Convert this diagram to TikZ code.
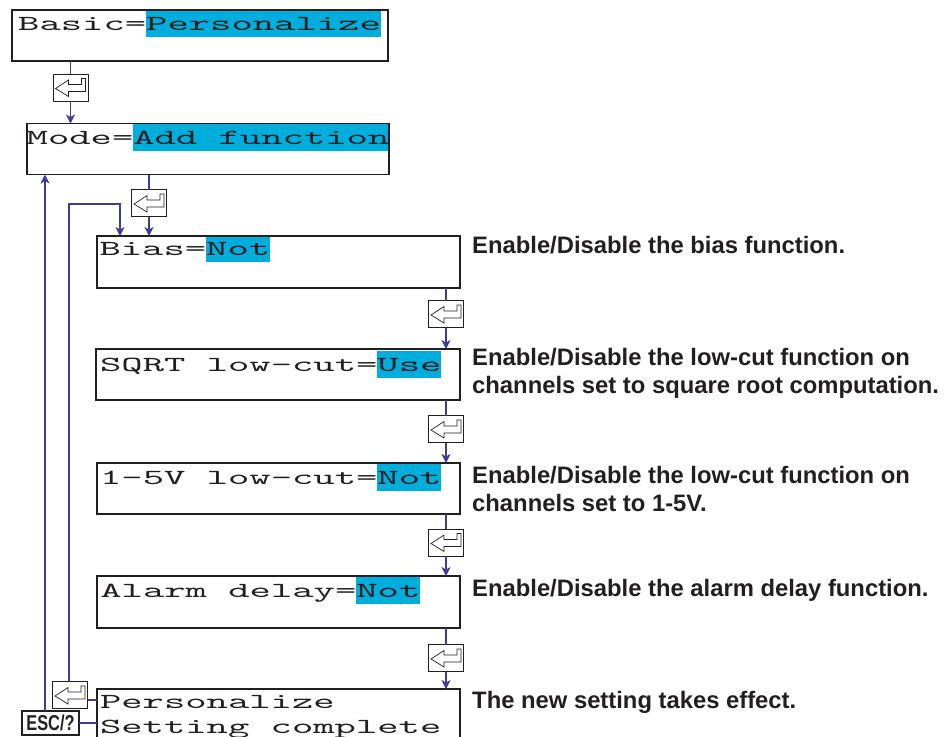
\documentclass[tikz,border=0pt]{standalone}
\usepackage{fontspec}
\usepackage{graphicx}
\setmainfont{Liberation Sans}
\newfontfamily\lcdfont{lmmono10-regular.otf}[FakeStretch=1.89]
\newfontfamily\descfont{Liberation Sans}
\usetikzlibrary{arrows.meta,calc}
\definecolor{ink}{HTML}{231F20}
\definecolor{hlcyan}{HTML}{00AEDE}
\definecolor{lineblue}{HTML}{3C3C9C}
\tikzset{
  lcdbox/.style={draw=ink, line width=1.8pt, inner sep=0pt, outer sep=0pt, anchor=north west},
  lcd/.style={font=\lcdfont\fontsize{21.5}{22}\selectfont, text=ink, inner sep=0pt, outer sep=0pt, anchor=base west},
  hl/.style={lcd, fill=hlcyan, text height=20pt, text depth=6.5pt},
  desc/.style={font=\descfont\bfseries\fontsize{23.8}{27}\selectfont, text=ink, inner sep=0pt, anchor=base west},
  keynode/.style={draw=ink, line width=0.9pt, fill=white, minimum width=35pt, minimum height=27pt, inner sep=0pt, outer sep=0pt,
    path picture={\begin{scope}[shift={(path picture bounding box.center)}]
      \draw[ink, line width=0.7pt] (-15,1) -- (-2,-7.5) -- (-2,-3) -- (11,-3) -- (11,-9) -- (15,-9) -- (15,4) -- (-2,4) -- (-2,9) -- cycle;
    \end{scope}}},
  escbox/.style={draw=ink, line width=1.2pt, fill=white, minimum width=57pt, minimum height=24pt, inner sep=0pt, outer sep=0pt, anchor=north west,
    font=\descfont\bfseries\fontsize{21.5}{22}\selectfont, text=ink},
  conn/.style={draw=lineblue, line width=1.2pt},
  arr/.style={-{Stealth[length=9pt,width=9pt,inset=2.5pt]}},
}
\begin{document}
\begin{tikzpicture}[x=1pt,y=-1pt]
\useasboundingbox (0,0) rectangle (949,736);
\clip (0,0) rectangle (949,736);

% texts in boxes
\node[lcd] (t1) at (18.2,30.5) {Basic=};
\node[hl, anchor=base west] (v1) at (t1.base east) {Personalize};
\node[lcd] (t2) at (26.7,144) {Mode=};
\node[hl, anchor=base west] (v2) at (t2.base east) {Add function};
\node[lcd] (t3) at (99.5,255) {Bias=};
\node[hl, anchor=base west] (v3) at (t3.base east) {Not};
\node[lcd] (t4) at (100.1,371) {SQRT low-cut=};
\node[hl, anchor=base west] (v4) at (t4.base east) {Use};
\node[lcd] (t5) at (100.1,484) {1-5V low-cut=};
\node[hl, anchor=base west] (v5) at (t5.base east) {Not};
\node[lcd] (t6) at (100.4,597) {Alarm delay=};
\node[hl, anchor=base west] (v6) at (t6.base east) {Not};
\node[lcd] (t7a) at (100,708) {Personalize};
\node[lcd] (t7b) at (100,733) {Setting complete};

% boxes
\node[lcdbox, minimum width=376pt, minimum height=51pt] (b1) at (12,10) {};
\node[lcdbox, minimum width=362pt, minimum height=51pt] (b2) at (27,123.5) {};
\node[lcdbox, minimum width=363pt, minimum height=52pt] (b3) at (97,236) {};
\node[lcdbox, minimum width=364pt, minimum height=51pt] (b4) at (96,349) {};
\node[lcdbox, minimum width=363pt, minimum height=51pt] (b5) at (97,463) {};
\node[lcdbox, minimum width=363pt, minimum height=52pt] (b6) at (97,576) {};
\node[lcdbox, minimum width=363pt, minimum height=80pt] (b7) at (97,689) {};

% keys
\node[keynode] (k1) at (70.5,87.5) {};
\node[keynode] (k2) at (149,203) {};
\node[keynode] (k3) at (446,314) {};
\node[keynode] (k4) at (446,429) {};
\node[keynode] (k5) at (446,542.5) {};
\node[keynode] (k6) at (446,658) {};
\node[keynode] (kL) at (70,695) {};
\node[escbox] (esc) at (22,711) {\scalebox{0.76}[1]{ESC/?}};

% descriptions
\node[desc] (d3) at (472,253) {Enable/Disable the bias function.};
\node[desc] (d4a) at (472,365) {Enable/Disable the low-cut function on};
\node[desc] (d4b) at (472,393) {channels set to square root computation.};
\node[desc] (d5a) at (472,483) {Enable/Disable the low-cut function on};
\node[desc] (d5b) at (472,511) {channels set to 1-5V.};
\node[desc] (d6) at (472,596) {Enable/Disable the alarm delay function.};
\node[desc] (d7) at (472,708) {The new setting takes effect.};

% connectors
\draw[conn] (b1.south -| k1) -- (k1.north);
\draw[conn,arr] (k1.south) -- (k1.south |- b2.north);
\draw[conn] (b2.south -| k2) -- (k2.north);
\draw[conn,arr] (k2.south) -- (k2.south |- b3.north);
\draw[conn] (b3.south -| k3) -- (k3.north);
\draw[conn,arr] (k3.south) -- (k3.south |- b4.north);
\draw[conn] (b4.south -| k4) -- (k4.north);
\draw[conn,arr] (k4.south) -- (k4.south |- b5.north);
\draw[conn] (b5.south -| k5) -- (k5.north);
\draw[conn,arr] (k5.south) -- (k5.south |- b6.north);
\draw[conn] (b6.south -| k6) -- (k6.north);
\draw[conn,arr] (k6.south) -- (k6.south |- b7.north);

\coordinate (turn) at (120,204);
\coordinate (kLtop) at ($(kL.north)+(-1,0)$);
\draw[conn,arr] (kLtop) -- (kLtop |- turn) -- (turn) -- (turn |- b3.north);
\coordinate (kLe) at ($(kL.east)+(0,5)$);
\draw[conn] (kLe) -- (kLe -| b7.west);

\coordinate (upL) at (45,0);
\draw[conn,arr] (esc.north -| upL) -- (b2.south -| upL);
\draw[conn] (esc.east) -- (esc.east -| b7.west);
\end{tikzpicture}
\end{document}
